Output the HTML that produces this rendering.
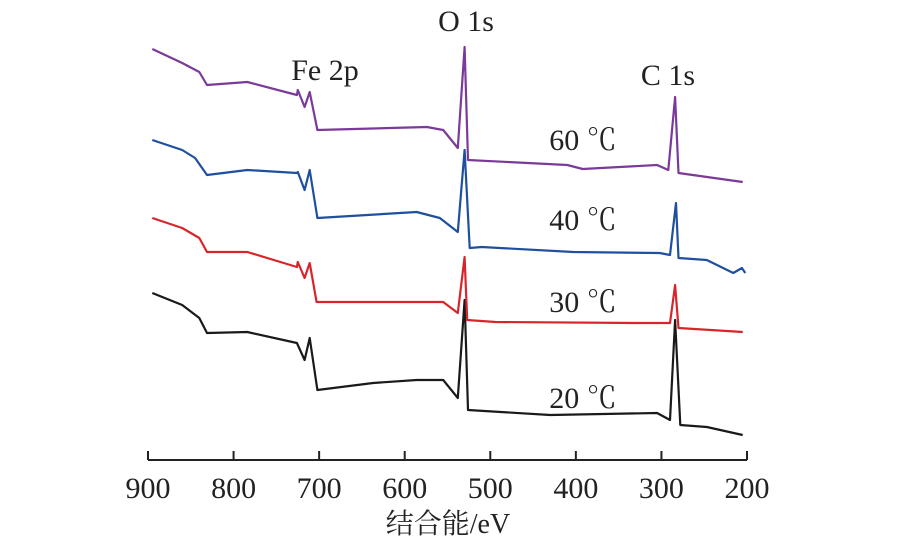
<!DOCTYPE html>
<html><head><meta charset="utf-8">
<style>
html,body{margin:0;padding:0;background:#fff;width:900px;height:541px;overflow:hidden}
svg text{font-family:"Liberation Serif","Noto Serif CJK SC",serif;fill:#222}
</style></head>
<body>
<svg id="chart" width="900" height="541" viewBox="0 0 900 541" xmlns="http://www.w3.org/2000/svg">
<g id="axis"></g>
<g id="series"></g>
<text x="325" y="80" font-size="30" text-anchor="middle">Fe 2p</text>
<text x="466" y="31" font-size="30" text-anchor="middle">O 1s</text>
<text x="668" y="85" font-size="30" text-anchor="middle">C 1s</text>
<text x="583" y="150" font-size="30" text-anchor="middle">60 ℃</text>
<text x="583" y="230" font-size="30" text-anchor="middle">40 ℃</text>
<text x="583" y="312" font-size="30" text-anchor="middle">30 ℃</text>
<text x="583" y="408" font-size="30" text-anchor="middle">20 ℃</text>
<text x="448" y="533" font-size="28" text-anchor="middle">结合能/eV</text>
</svg>
<script>
const xTicks=[900,800,700,600,500,400,300,200];
const ev60=[895,860,840,831,784,726,725,717,711,702,574,555,538,530,526,410,392,305,292,284,280,205];
const in60=[411,397,388,375,378,365,370,353,368,330,333,330,312,413,300,295,291,295,290,363,287,278];
const ev40=[895,860,845,831,784,726,725,717,711,702,586,559,538,530,524,510,403,302,290,283,280,247,216,206,202];
const in40=[320,310,302,285,290,287,288,270,290,242,248,242,228,310,212,213,208,207,205,257,202,200,187,192,187];
const ev30=[895,860,840,831,784,726,725,717,711,703,574,555,538,530,527,494,325,290,284,280,205];
const in30=[242,232,222,208,208,193,198,182,197,158,158,158,147,203,140,138,137,137,175,132,128];
const ev20=[895,860,840,831,784,726,717,711,702,637,586,555,538,530,526,430,305,290,284,278,247,205];
const in20=[167,155,142,127,128,117,100,122,70,77,80,80,62,160,50,45,47,40,140,35,33,25];
const xMin=900,xMax=200,xL=148,xR=747,axisY=460;
function xs(v){return xL+(xMin-v)/(xMin-xMax)*(xR-xL);}
function ys(v){return axisY-v;}
const NS="http://www.w3.org/2000/svg";
const ax=document.getElementById('axis');
const base=document.createElementNS(NS,'line');


base.setAttribute('x1',xL);base.setAttribute('x2',xR);base.setAttribute('y1',axisY);base.setAttribute('y2',axisY);
base.setAttribute('stroke','#222');base.setAttribute('stroke-width','2');
ax.appendChild(base);
xTicks.forEach(t=>{
 const l=document.createElementNS(NS,'line');
 
 
 l.setAttribute('x1',xs(t));l.setAttribute('x2',xs(t));l.setAttribute('y1',axisY);l.setAttribute('y2',axisY-9);
 l.setAttribute('stroke','#222');l.setAttribute('stroke-width','2');
 ax.appendChild(l);
 const tx=document.createElementNS(NS,'text');
 
 
 tx.setAttribute('x',xs(t));tx.setAttribute('y',498);tx.setAttribute('font-size','30');tx.setAttribute('text-anchor','middle');
 tx.textContent=t;
 ax.appendChild(tx);
});
const sg=document.getElementById('series');
function draw(ev,iv,color,name){
 const p=document.createElementNS(NS,'path');
 
 
 p.setAttribute('d',ev.map((e,i)=>(i?'L':'M')+xs(e).toFixed(1)+','+ys(iv[i]).toFixed(1)).join(''));
 p.setAttribute('fill','none');p.setAttribute('stroke',color);p.setAttribute('stroke-width','2.2');p.setAttribute('stroke-linejoin','round');
 sg.appendChild(p);
}
draw(ev60,in60,'#7b3a9a','series-60c');
draw(ev40,in40,'#1f4f9e','series-40c');
draw(ev20,in20,'#1a1a1a','series-20c');
draw(ev30,in30,'#d7262b','series-30c');
</script>
</body></html>
